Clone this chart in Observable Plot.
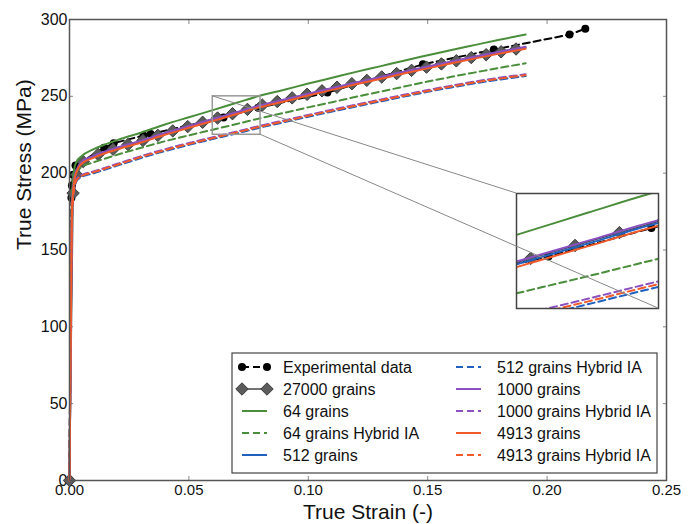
<!DOCTYPE html>
<html>
<head>
<meta charset="utf-8">
<script src="https://cdn.jsdelivr.net/npm/d3@7"></script>
<script src="https://cdn.jsdelivr.net/npm/@observablehq/plot@0.6"></script>
<style>
  html, body { margin: 0; padding: 0; background: #fff; }
  #wrap { position: relative; width: 698px; height: 524px; font-family: "Liberation Sans", Arial, sans-serif; }
  #wrap > * { position: absolute; }
</style>
</head>
<body>
<div id="wrap"></div>
<script>
// ---------- data ----------
const xTicks = [0, 0.05, 0.10, 0.15, 0.20, 0.25];
const yTicks = [0, 50, 100, 150, 200, 250, 300];

// simulation strain grid
const strain = [0, 0.001, 0.002, 0.003, 0.005, 0.01, 0.015, 0.02, 0.03, 0.04, 0.05, 0.06, 0.07, 0.08, 0.09, 0.10, 0.11, 0.12, 0.13, 0.14, 0.15, 0.16, 0.17, 0.18, 0.191];
const g64      = [0, 185, 203, 207.5, 211, 215.5, 218.7, 221.5, 226.4, 231.7, 236.4, 241, 245.8, 250.5, 254.3, 258.3, 262.1, 265.9, 269.5, 273.2, 276.7, 280.2, 283.5, 286.8, 290.2];
const g64H     = [0, 175, 195, 201, 204, 207, 209.5, 212, 216.5, 220.8, 224.6, 228.3, 232, 235.8, 239.3, 242.8, 246.2, 249.7, 253, 256.3, 259.6, 262.7, 265.6, 268.5, 271.5];
const g512     = [0, 176, 196, 201.6, 206.6, 210.6, 213.6, 216.1, 220.6, 225.6, 230.1, 234.6, 239.1, 243.6, 247.3, 251.1, 254.8, 258.4, 261.9, 265.4, 268.8, 272.1, 275.3, 278.4, 281.6];
const g512H    = [0, 169, 189, 194.9, 197.4, 199.9, 202.4, 204.9, 209.9, 214.4, 218.4, 222.2, 225.9, 229.7, 233.2, 236.7, 240.1, 243.4, 246.6, 249.8, 252.9, 255.8, 258.5, 260.9, 263.2];
const g1000    = [0, 176, 196, 202, 207.2, 211.2, 214.2, 216.7, 221.2, 226.2, 230.7, 235.2, 239.7, 244.2, 247.9, 251.7, 255.4, 259, 262.5, 266, 269.4, 272.7, 275.9, 279, 282.2];
const g1000H   = [0, 171, 191, 196.1, 198.6, 201.1, 203.6, 206.1, 211.1, 215.6, 219.6, 223.4, 227.1, 230.9, 234.4, 237.9, 241.3, 244.6, 247.8, 251, 254.1, 257, 259.7, 262.1, 264.4];
const g4913    = [0, 175, 195, 201, 206, 210, 213, 215.5, 220, 225, 229.5, 234, 238.5, 243, 246.7, 250.5, 254.2, 257.8, 261.3, 264.8, 268.2, 271.5, 274.7, 277.8, 281];
const g4913H   = [0, 170, 190, 195.5, 198, 200.5, 203, 205.5, 210.5, 215, 219, 222.8, 226.5, 230.3, 233.8, 237.3, 240.7, 244, 247.2, 250.4, 253.5, 256.4, 259.1, 261.5, 263.8];

// 27000 grains (markers)
const g27000Strain = [0, 0.0015, 0.003, 0.00575, 0.012, 0.01825, 0.0245, 0.03075, 0.037, 0.04325, 0.0495, 0.05575, 0.062, 0.06825, 0.0745, 0.08075, 0.087, 0.09325, 0.0995, 0.10575, 0.112, 0.11825, 0.1245, 0.13075, 0.137, 0.14325, 0.1495, 0.15575, 0.162, 0.16825, 0.1745, 0.18075, 0.187];
const g27000Stress = [0, 187, 199, 207.5, 212.2, 215.6, 218.6, 221.3, 224.6, 227.5, 230.3, 233.1, 235.9, 238.7, 241.5, 244.3, 246.6, 249, 251.3, 253.6, 255.9, 258.2, 260.4, 262.6, 264.8, 266.9, 269, 271.1, 273.1, 275.2, 277.1, 279, 280.8];

// experimental data
const expStrain = [0, 0.0008, 0.001, 0.0015, 0.0025, 0.0145, 0.0185, 0.031, 0.034, 0.0645, 0.079, 0.108, 0.148, 0.1777, 0.2094, 0.216];
const expStress = [0, 184, 192, 199, 205, 216.5, 219.5, 224.5, 225.5, 236.3, 242.5, 252.5, 270.8, 280.4, 290.2, 294];

// zoomed window
const zoomX = [0.06, 0.08];
const zoomY = [225, 250];

// ---------- styles ----------
const C = {green: "#4a8d3b", blue: "#2160be", purple: "#8c50c0", orange: "#f25a2a", black: "#000", gray: "#5c5c5c"};
const DASH = "7,4";
const series = [
  {name: "64 grains",               ys: g64,    color: C.green,  dash: null},
  {name: "64 grains Hybrid IA",     ys: g64H,   color: C.green,  dash: DASH},
  {name: "512 grains",              ys: g512,   color: C.blue,   dash: null},
  {name: "512 grains Hybrid IA",    ys: g512H,  color: C.blue,   dash: DASH},
  {name: "1000 grains",             ys: g1000,  color: C.purple, dash: null},
  {name: "1000 grains Hybrid IA",   ys: g1000H, color: C.purple, dash: DASH},
  {name: "4913 grains",             ys: g4913,  color: C.orange, dash: null},
  {name: "4913 grains Hybrid IA",   ys: g4913H, color: C.orange, dash: DASH}
];
const rows = (xs, ys) => xs.map((x, i) => ({x, y: ys[i]}));
const expRows = rows(expStrain, expStress);
const gRows = rows(g27000Strain, g27000Stress);

function dataMarks(clip) {
  const m = [
    Plot.line(expRows, {x: "x", y: "y", stroke: "#000", strokeWidth: 2, strokeDasharray: DASH, clip}),
    Plot.dot(expRows, {x: "x", y: "y", r: 4, fill: "#000", clip}),
    Plot.line(gRows, {x: "x", y: "y", stroke: "#444", strokeWidth: 1.5, clip}),
    Plot.dot(gRows, {x: "x", y: "y", symbol: "diamond2", r: 5.6, fill: C.gray, stroke: "#3a3a3a", strokeWidth: 1, clip})
  ];
  for (const s of series) {
    m.push(Plot.line(rows(strain, s.ys), {x: "x", y: "y", stroke: s.color, strokeWidth: 2, strokeDasharray: s.dash, curve: "monotone-x", clip}));
  }
  return m;
}

const font = "'Liberation Sans', Arial, sans-serif";
const wrap = document.getElementById("wrap");

// ---------- main chart ----------
const main = Plot.plot({
  width: 698, height: 524,
  marginLeft: 69, marginRight: 32, marginTop: 19, marginBottom: 44,
  style: {fontFamily: font, background: "white", color: "#111", overflow: "visible"},
  x: {domain: [0, 0.25]},
  y: {domain: [0, 300]},
  marks: [
    Plot.axisX({ticks: xTicks, tickSize: -4, tickPadding: 8, tickFormat: d3.format(".2f"), fontSize: 15, label: null, stroke: "#888", fill: "#111"}),
    Plot.axisX({anchor: "top", ticks: xTicks, tickSize: -4, tickFormat: () => "", label: null, stroke: "#888"}),
    Plot.axisY({ticks: yTicks, tickSize: -4, tickPadding: 6, tickFormat: d3.format("d"), fontSize: 16, label: null, stroke: "#888", fill: "#111"}),
    Plot.axisY({anchor: "right", ticks: yTicks, tickSize: -4, tickFormat: () => "", label: null, stroke: "#888"}),
    ...dataMarks(false),
    Plot.rect([{x1: zoomX[0], x2: zoomX[1], y1: zoomY[0], y2: zoomY[1]}], {x1: "x1", x2: "x2", y1: "y1", y2: "y2", fill: "none", stroke: "#999", strokeWidth: 1.5}),
    Plot.frame({stroke: "#555", strokeWidth: 1.5}),
    Plot.text(["True Stress (MPa)"], {frameAnchor: "left", dx: -45, rotate: -90, fontSize: 21, fill: "#111"}),
    Plot.text(["True Strain (-)"], {frameAnchor: "bottom", dy: 32, lineAnchor: "middle", fontSize: 21, fill: "#111"})
  ]
});
main.style.left = "0px"; main.style.top = "0px";
wrap.appendChild(main);

// ---------- inset ----------
const insetBox = {left: 516, top: 193, width: 142, height: 115};
const inset = Plot.plot({
  width: insetBox.width, height: insetBox.height,
  margin: 0,
  style: {background: "transparent", overflow: "visible"},
  x: {domain: zoomX, axis: null},
  y: {domain: zoomY, axis: null},
  marks: [
    ...dataMarks(true),
    Plot.frame({stroke: "#444", strokeWidth: 1.5})
  ]
});
inset.style.left = insetBox.left + "px"; inset.style.top = insetBox.top + "px";
wrap.appendChild(inset);

// connector lines (zoom rect corners -> inset corners)
const sx = main.scale("x"), sy = main.scale("y");
const over = d3.create("svg").attr("width", 698).attr("height", 524)
  .style("left", "0px").style("top", "0px").style("pointer-events", "none").style("position", "absolute");
over.append("line")
  .attr("x1", sx.apply(zoomX[0])).attr("y1", sy.apply(zoomY[1]))
  .attr("x2", insetBox.left).attr("y2", insetBox.top)
  .attr("stroke", "#888").attr("stroke-width", 1);
over.append("line")
  .attr("x1", sx.apply(zoomX[1])).attr("y1", sy.apply(zoomY[0]))
  .attr("x2", insetBox.left + insetBox.width).attr("y2", insetBox.top + insetBox.height)
  .attr("stroke", "#888").attr("stroke-width", 1);
wrap.appendChild(over.node());

// ---------- legend ----------
const legendItems = [
  {name: "Experimental data", kind: "exp"},
  {name: "27000 grains", kind: "g27000"},
  ...series.map(s => ({name: s.name, kind: "line", color: s.color, dash: s.dash}))
];
const LB = {left: 232, top: 353, width: 425, height: 120};
const leg = d3.create("svg").attr("width", LB.width + 2).attr("height", LB.height + 2)
  .style("left", (LB.left - 1) + "px").style("top", (LB.top - 1) + "px").style("position", "absolute")
  .style("font-family", font);
leg.append("rect").attr("x", 1).attr("y", 1).attr("width", LB.width).attr("height", LB.height)
  .attr("fill", "white").attr("stroke", "#444").attr("stroke-width", 1.2);
legendItems.forEach((it, i) => {
  const col = i < 5 ? 0 : 1, row = i % 5;
  const x0 = 1 + (col === 0 ? 10 : 224), x1 = x0 + 25;
  const tx = 1 + (col === 0 ? 51 : 265);
  const y = 1 + 14 + row * 22;
  const g = leg.append("g");
  if (it.kind === "exp") {
    g.append("line").attr("x1", x0).attr("x2", x1).attr("y1", y).attr("y2", y).attr("stroke", "#000").attr("stroke-width", 2).attr("stroke-dasharray", DASH);
    [x0, x1].forEach(cx => g.append("circle").attr("cx", cx).attr("cy", y).attr("r", 4).attr("fill", "#000"));
  } else if (it.kind === "g27000") {
    g.append("line").attr("x1", x0).attr("x2", x1).attr("y1", y).attr("y2", y).attr("stroke", "#444").attr("stroke-width", 1.5);
    [x0, x1].forEach(cx => g.append("path").attr("transform", `translate(${cx},${y})`)
      .attr("d", d3.symbol(d3.symbolDiamond2, Math.PI * 5.6 * 5.6)()).attr("fill", C.gray).attr("stroke", "#3a3a3a"));
  } else {
    g.append("line").attr("x1", x0).attr("x2", x1).attr("y1", y).attr("y2", y).attr("stroke", it.color).attr("stroke-width", 2)
      .attr("stroke-dasharray", it.dash);
  }
  g.append("text").attr("x", tx).attr("y", y).attr("dy", "0.36em").attr("font-size", 16).attr("fill", "#111").text(it.name);
});
wrap.appendChild(leg.node());
</script>
</body>
</html>
